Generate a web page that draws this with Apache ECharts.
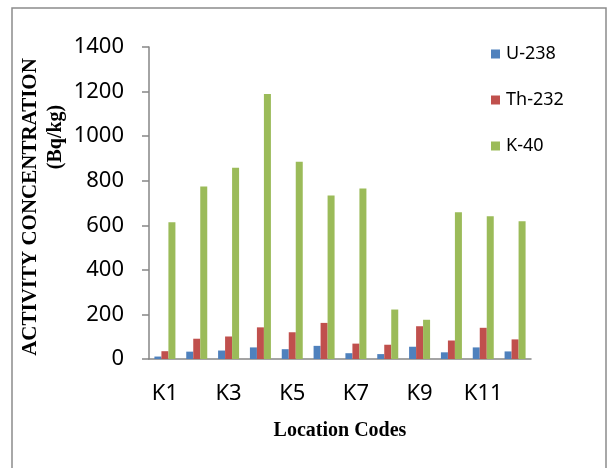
<!DOCTYPE html>
<html>
<head>
<meta charset="utf-8">
<script src="https://cdn.jsdelivr.net/npm/echarts@6/dist/echarts.min.js"></script>
<style>html,body{margin:0;padding:0;background:#fff}#c{width:612px;height:468px}</style>
</head>
<body>
<div id="c"></div>
<script>
var categories = ['K1','K2','K3','K4','K5','K6','K7','K8','K9','K10','K11','K12'];
var u238  = [11, 33, 38, 52, 44, 59, 26, 22, 55, 30, 52, 34];
var th232 = [35, 91, 101, 142, 120, 162, 69, 64, 147, 83, 140, 88];
var k40   = [614, 774, 858, 1189, 885, 734, 765, 222, 176, 659, 640, 618];
var yTicks = [0, 1400, 200];

var chart = echarts.init(document.getElementById('c'), null, {renderer: 'canvas'});
var sans = '"Noto Sans", "Open Sans", sans-serif';
var serif = '"Liberation Serif", "DejaVu Serif", serif';
function bar(name, data, color) {
  return {
    name: name, type: 'bar', data: data, barWidth: 7, barGap: '0%',
    itemStyle: {color: color}
  };
}
chart.setOption({
  animation: false,
  grid: {left: 149, right: 81, top: 47, bottom: 109, containLabel: false},
  legend: {
    orient: 'vertical', left: 486, top: 40, itemWidth: 9, itemHeight: 9, itemGap: 28,
    icon: 'rect',
    textStyle: {fontFamily: sans, fontSize: 18, color: '#000', padding: [0,0,0,1]},
    data: ['U-238', 'Th-232', 'K-40']
  },
  xAxis: {
    type: 'category', data: categories,
    axisLine: {lineStyle: {color: '#868686', width: 1.5}},
    axisTick: {show: false},
    axisLabel: {interval: 1, fontFamily: sans, fontSize: 22, color: '#000', margin: 24}
  },
  yAxis: {
    type: 'value', min: yTicks[0], max: yTicks[1], interval: yTicks[2],
    axisLine: {show: true, lineStyle: {color: '#868686', width: 1.5}},
    axisTick: {show: true, length: 7, lineStyle: {color: '#868686', width: 1.5}},
    splitLine: {show: false},
    axisLabel: {fontFamily: sans, fontSize: 22, color: '#000', margin: 25,
      formatter: function (v) { return String(v); }}
  },
  series: [
    bar('U-238', u238, '#4F81BD'),
    bar('Th-232', th232, '#C0504D'),
    bar('K-40', k40, '#9BBB59')
  ],
  graphic: [
    {type: 'rect', shape: {x: 12, y: 8, width: 594, height: 480}, style: {fill: 'none', stroke: '#8c8c8c', lineWidth: 1.5}, silent: true},
    {type: 'text', x: 31, y: 207, rotation: Math.PI/2,
     style: {text: 'ACTIVITY CONCENTRATION', font: 'bold 21px ' + serif, fill: '#000', align: 'center', verticalAlign: 'middle'}},
    {type: 'text', x: 56, y: 137, rotation: Math.PI/2,
     style: {text: '(Bq/kg)', font: 'bold 20px ' + serif, fill: '#000', align: 'center', verticalAlign: 'middle'}},
    {type: 'text', x: 340, y: 431,
     style: {text: 'Location Codes', font: 'bold 20px ' + serif, fill: '#000', align: 'center', verticalAlign: 'middle'}}
  ]
});
</script>
</body>
</html>
